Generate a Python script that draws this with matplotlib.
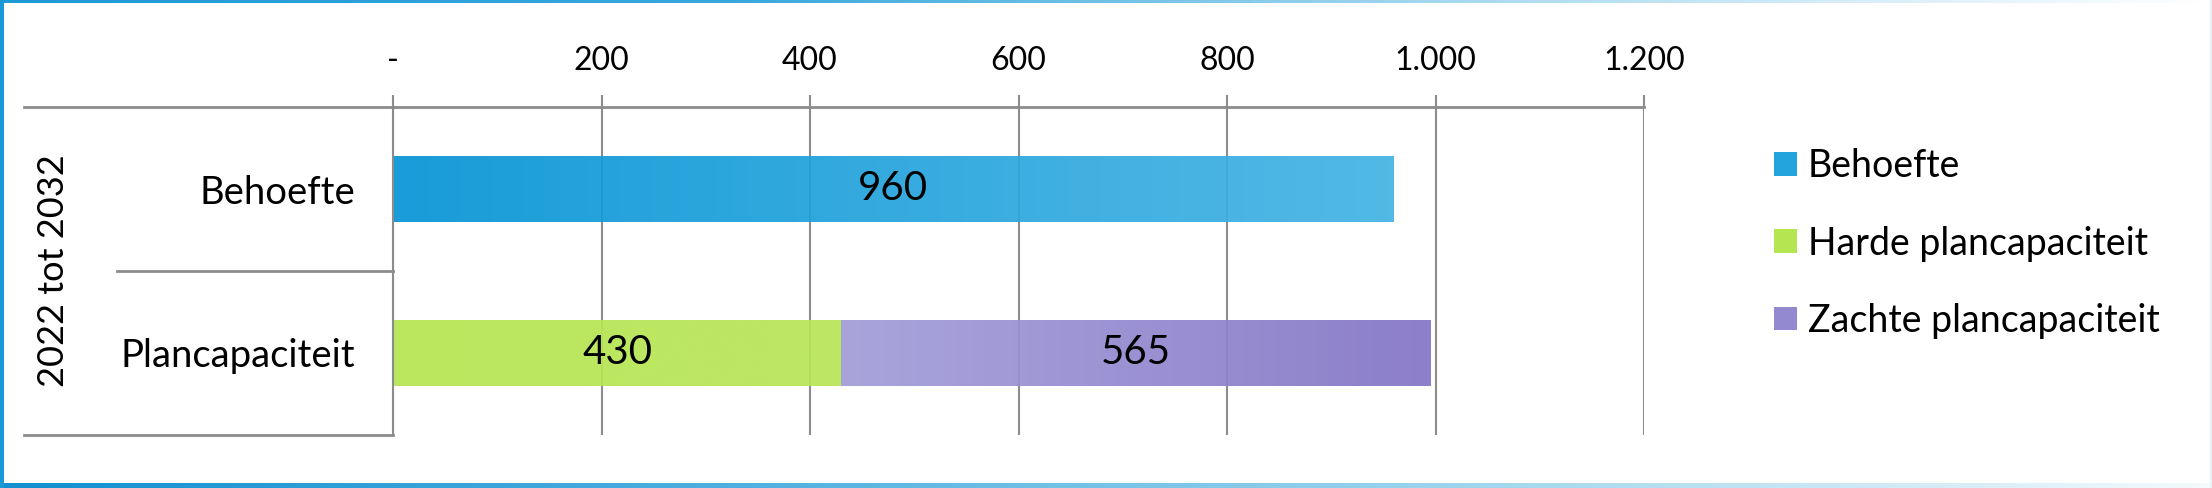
import matplotlib
matplotlib.use("Agg")
import matplotlib.pyplot as plt
import numpy as np
from matplotlib.colors import LinearSegmentedColormap
from matplotlib.patches import Patch

plt.rcParams['font.family'] = ['Lato', 'DejaVu Sans']

# data
categories = ['Behoefte', 'Plancapaciteit']
group_label = '2022 tot 2032'
behoefte = [960, 0]
harde = [0, 430]
zachte = [0, 565]
series_names = ['Behoefte', 'Harde plancapaciteit', 'Zachte plancapaciteit']
xticks = [0, 200, 400, 600, 800, 1000, 1200]
xtick_labels = ['-', '200', '400', '600', '800', '1.000', '1.200']

# colours (left -> right of gradient)
blue = ('#0795d6', '#45b4e4')
green = ('#b5e652', '#b8e658')
purple = ('#a39ed9', '#8475c6')
grid_col = '#8c8c8c'


def gradient_fill(ax, bars, cols):
    cmap = LinearSegmentedColormap.from_list('g', list(cols))
    for b in bars:
        if b.get_width() == 0:
            continue
        x, y = b.get_x(), b.get_y()
        w, h = b.get_width(), b.get_height()
        im = ax.imshow(np.linspace(0, 1, 256).reshape(1, -1), cmap=cmap,
                       aspect='auto', extent=(x, x + w, y, y + h),
                       zorder=2, alpha=0.93, interpolation='bilinear')
        im.set_clip_path(b)
        b.set_facecolor('none')


fig = plt.figure(figsize=(22.12, 4.88), dpi=100)

# frame with blue gradient
bg = fig.add_axes([0, 0, 1, 1], zorder=-1)
bg.axis('off')
bottom_cmap = LinearSegmentedColormap.from_list(
    'b', ['#1290d0', '#4fb0e0', '#9fd6ee', '#f4fafd'])
top_cmap = LinearSegmentedColormap.from_list(
    't', ['#1e9ad6', '#39a8dd', '#a9daf0', '#ffffff'])
ramp = np.linspace(0, 1, 512).reshape(1, -1)
bg.imshow(ramp, cmap=bottom_cmap, aspect='auto', extent=(0, 1, 0, 5 / 488))
bg.imshow(ramp, cmap=top_cmap, aspect='auto', extent=(0, 1, 1 - 3 / 488, 1))
bg.imshow(np.zeros((1, 1)), cmap=LinearSegmentedColormap.from_list('l', ['#1a98d5', '#1a98d5']),
          aspect='auto', extent=(0, 4 / 2212, 0, 1))
bg.imshow(np.zeros((1, 1)), cmap=LinearSegmentedColormap.from_list('r', ['#e6f3fa', '#e6f3fa']),
          aspect='auto', extent=(1 - 2 / 2212, 1, 0, 1))
bg.set_xlim(0, 1)
bg.set_ylim(0, 1)

ax = fig.add_axes([393 / 2212, 1 - 435 / 488, 1251 / 2212, 328 / 488])
y = np.arange(len(categories))

b1 = ax.barh(y, behoefte, height=0.40, color=blue[0], zorder=2)
b2 = ax.barh(y, harde, height=0.40, color=green[0], zorder=2)
b3 = ax.barh(y, zachte, left=harde, height=0.40, color=purple[0], zorder=2)
gradient_fill(ax, b1, blue)
gradient_fill(ax, b2, green)
gradient_fill(ax, b3, purple)

for bars, vals in [(b1, behoefte), (b2, harde), (b3, zachte)]:
    ax.bar_label(bars, labels=[str(v) if v else '' for v in vals],
                 label_type='center', fontsize=29, color='black', zorder=4)

ax.set_xlim(0, 1200)
ax.set_ylim(len(categories) - 0.5, -0.5)

ax.xaxis.tick_top()
ax.set_xticks(xticks, xtick_labels)
ax.tick_params(axis='x', direction='out', length=8.6, width=1.5,
               color=grid_col, pad=14, labelsize=23)
ax.set_yticks(y, categories)
ax.tick_params(axis='y', length=0, pad=27, labelsize=27.5)

ax.grid(axis='x', color=grid_col, linewidth=1.5, zorder=1)
ax.set_axisbelow(True)
for s in ['right', 'bottom']:
    ax.spines[s].set_visible(False)
ax.spines['left'].set_color(grid_col)
ax.spines['left'].set_linewidth(1.5)
ax.spines['top'].set_color(grid_col)
ax.spines['top'].set_linewidth(2)

# category table lines left of the axis
ax.plot([-0.295, 0], [1, 1], transform=ax.transAxes, color=grid_col, lw=2, clip_on=False)
ax.plot([-0.2206, 0], [0.5, 0.5], transform=ax.transAxes, color=grid_col, lw=2, clip_on=False)
ax.plot([-0.295, 0], [0, 0], transform=ax.transAxes, color=grid_col, lw=2, clip_on=False)
ax.text(-0.271, 0.5, group_label, transform=ax.transAxes, rotation=90,
        ha='center', va='center', fontsize=26)

handles = [Patch(facecolor=c[0]) for c in (blue, green, purple)]
handles[0].set_facecolor('#23a4dc')
handles[2].set_facecolor('#9389d0')
fig.legend(handles, series_names, loc='center left', bbox_to_anchor=(1774 / 2212, 0.501),
           frameon=False, fontsize=27, borderaxespad=0, borderpad=0,
           handlelength=0.6, handleheight=0.6, handletextpad=0.3, labelspacing=1.1)

fig.savefig('out.png', dpi=100)
